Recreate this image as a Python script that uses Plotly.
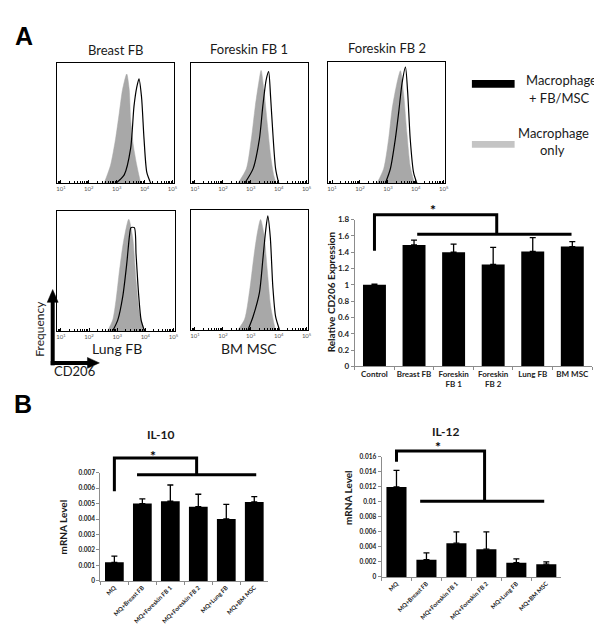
import plotly.graph_objects as go

W, H = 602, 633

# ---------------- DATA ----------------
# Flow histograms: log10(CD206 intensity) positions and relative frequency (fraction of panel height)
hist_titles = ["Breast FB", "Foreskin FB 1", "Foreskin FB 2", "Lung FB", "BM MSC"]

h1_gray_log = [2.55, 2.78, 2.96, 3.09, 3.21, 3.36, 3.45, 3.50, 3.60, 3.72, 3.86]
h1_gray_y = [0, 0.15, 0.37, 0.58, 0.78, 0.91, 0.78, 0.53, 0.31, 0.15, 0]
h1_black_log = [2.97, 3.27, 3.50, 3.62, 3.72, 3.80, 3.89, 3.98, 4.08, 4.22]
h1_black_y = [0, 0.07, 0.29, 0.64, 0.80, 0.87, 0.72, 0.37, 0.09, 0]

h2_gray_log = [2.54, 2.84, 3.02, 3.16, 3.28, 3.37, 3.47, 3.59, 3.71, 3.83, 3.91]
h2_gray_y = [0, 0.12, 0.37, 0.64, 0.83, 0.94, 0.78, 0.50, 0.23, 0.06, 0]
h2_black_log = [2.78, 3.08, 3.31, 3.43, 3.55, 3.64, 3.71, 3.79, 3.89, 4.00]
h2_black_y = [0, 0.12, 0.37, 0.64, 0.86, 0.93, 0.72, 0.42, 0.12, 0]

h3_gray_log = [2.61, 2.85, 3.03, 3.15, 3.30, 3.45, 3.56, 3.68, 3.80, 3.95]
h3_gray_y = [0, 0.12, 0.37, 0.61, 0.80, 0.93, 0.75, 0.42, 0.14, 0]
h3_black_log = [2.91, 3.09, 3.27, 3.39, 3.51, 3.63, 3.71, 3.80, 3.92, 4.04]
h3_black_y = [0, 0.12, 0.37, 0.59, 0.83, 0.96, 0.75, 0.37, 0.09, 0]

h4_gray_log = [2.66, 2.84, 2.96, 3.08, 3.23, 3.41, 3.55, 3.67, 3.79, 3.97]
h4_gray_y = [0, 0.09, 0.26, 0.50, 0.75, 0.93, 0.78, 0.42, 0.15, 0]
h4_black_log = [2.84, 3.02, 3.20, 3.34, 3.44, 3.49, 3.61, 3.67, 3.76, 3.85, 3.97]
h4_black_y = [0, 0.09, 0.29, 0.56, 0.80, 0.86, 0.86, 0.64, 0.31, 0.09, 0]

h5_gray_log = [2.54, 2.78, 2.96, 3.11, 3.23, 3.35, 3.47, 3.59, 3.71, 3.88]
h5_gray_y = [0, 0.09, 0.33, 0.61, 0.80, 0.92, 0.80, 0.50, 0.20, 0]
h5_black_log = [2.90, 3.08, 3.31, 3.43, 3.53, 3.61, 3.70, 3.79, 3.89, 4.03]
h5_black_y = [0, 0.11, 0.31, 0.58, 0.82, 0.95, 0.77, 0.36, 0.11, 0]

hist_tickvals = [1e1, 1e2, 1e3, 1e4, 1e5]
hist_ticktext = ["10<sup>1</sup>", "10<sup>2</sup>", "10<sup>3</sup>", "10<sup>4</sup>", "10<sup>5</sup>"]

# CD206 relative expression
cd_cats = ["Control", "Breast FB", "Foreskin<br>FB 1", "Foreskin<br>FB 2", "Lung FB", "BM MSC"]
cd_vals = [1.00, 1.49, 1.40, 1.25, 1.41, 1.47]
cd_err = [0.01, 0.06, 0.10, 0.21, 0.17, 0.06]
cd_ticks = [0, 0.2, 0.4, 0.6, 0.8, 1.0, 1.2, 1.4, 1.6, 1.8]
cd_ticktext = ["0", "0.2", "0.4", "0.6", "0.8", "1", "1.2", "1.4", "1.6", "1.8"]

# IL-10 / IL-12 mRNA
il_cats = ["MQ", "MQ+Breast FB", "MQ+Foreskin FB 1", "MQ+Foreskin FB 2", "MQ+Lung FB", "MQ+BM MSC"]
il10_vals = [0.0012, 0.0050, 0.00515, 0.0048, 0.0040, 0.0051]
il10_err = [0.0004, 0.0003, 0.00105, 0.0008, 0.00095, 0.00035]
il10_ticks = [0, 0.001, 0.002, 0.003, 0.004, 0.005, 0.006, 0.007]
il10_ticktext = ["0", "0.001", "0.002", "0.003", "0.004", "0.005", "0.006", "0.007"]
il12_vals = [0.0120, 0.0023, 0.0045, 0.0037, 0.0019, 0.0017]
il12_err = [0.0022, 0.0009, 0.0015, 0.0023, 0.0005, 0.0003]
il12_ticks = [0, 0.002, 0.004, 0.006, 0.008, 0.010, 0.012, 0.014, 0.016]
il12_ticktext = ["0", "0.002", "0.004", "0.006", "0.008", "0.01", "0.012", "0.014", "0.016"]

# significance brackets: (start_y, top_y, top_right_x, lower_y, lower_x0, lower_x1, star_x, star_y)
cd_sig = [1.42, 1.86, 3.09, 1.62, 1.08, 4.98, 1.48, 1.93]
il10_sig = [0.00579, 0.00795, 2.94, 0.00687, 0.81, 5.07, 1.38, 0.0081]
il12_sig = [0.01534, 0.01679, 2.94, 0.0101, 0.79, 4.93, 1.39, 0.0174]

# ---------------- LAYOUT HELPERS ----------------
def dx(a, b):
    return [a / W, b / W]

def dy(top, bottom):
    return [1 - bottom / H, 1 - top / H]

def px(x):
    return x / W

def py(y):
    return 1 - y / H

FONT = "Lato"
fig = go.Figure()

hist_boxes = [(49, 167, 51, 173), (184, 302, 51, 173), (322, 440, 50, 173),
              (49, 168, 201, 323), (184, 302, 200, 322)]
hist_data = [(h1_gray_log, h1_gray_y, h1_black_log, h1_black_y),
             (h2_gray_log, h2_gray_y, h2_black_log, h2_black_y),
             (h3_gray_log, h3_gray_y, h3_black_log, h3_black_y),
             (h4_gray_log, h4_gray_y, h4_black_log, h4_black_y),
             (h5_gray_log, h5_gray_y, h5_black_log, h5_black_y)]

layout_axes = {}
for i, ((x0, x1, y0, y1), (gl, gy, bl, by)) in enumerate(zip(hist_boxes, hist_data)):
    n = i + 1
    xa = "x" if n == 1 else f"x{n}"
    ya = "y" if n == 1 else f"y{n}"
    fig.add_trace(go.Scatter(x=[10 ** v for v in gl], y=gy, mode="lines",
                             line=dict(color="#a8a8a8", width=0.5, shape="spline", smoothing=0.7),
                             fill="tozeroy", fillcolor="#a8a8a8",
                             xaxis=xa, yaxis=ya, showlegend=False, hoverinfo="skip"))
    fig.add_trace(go.Scatter(x=[10 ** v for v in bl], y=by, mode="lines",
                             line=dict(color="black", width=1.2, shape="spline", smoothing=0.7),
                             xaxis=xa, yaxis=ya, showlegend=False, hoverinfo="skip"))
    kx = "xaxis" if n == 1 else f"xaxis{n}"
    ky = "yaxis" if n == 1 else f"yaxis{n}"
    layout_axes[kx] = dict(domain=dx(x0, x1), anchor=ya, type="log", range=[0.85, 5.05],
                           showline=True, mirror=True, linecolor="black", linewidth=1,
                           showgrid=False, zeroline=False,
                           tickvals=hist_tickvals, ticktext=hist_ticktext,
                           ticks="inside", ticklen=3, tickcolor="black",
                           minor=dict(ticks="inside", ticklen=2, tickcolor="black", dtick="D1"),
                           tickfont=dict(family=FONT, size=6, color="#555"))
    layout_axes[ky] = dict(domain=dy(y0, y1), anchor=xa, range=[0, 1],
                           showline=True, mirror=True, linecolor="black", linewidth=1,
                           showgrid=False, zeroline=False, showticklabels=False, ticks="")

err_common = dict(type="data", symmetric=False, color="black", thickness=1.3, width=3)
ann = []

def bar_panel(n, cats, vals, err, xl, xr, ytop, ybot, yext, yrange, ticks, ticktext,
              tickangle, catfont, yfont, bw, sig, nov):
    xa, ya = f"x{n}", f"y{n}"
    xo, yo = f"x{nov}", f"y{nov}"
    fig.add_trace(go.Bar(x=cats, y=vals, width=bw, marker=dict(color="black", line=dict(width=0)),
                         error_y=dict(array=err, arrayminus=[0] * len(err), **err_common),
                         xaxis=xa, yaxis=ya, showlegend=False, hoverinfo="skip"))
    s0, st, sx, sl, l0, l1, sxs, sys = sig
    fig.add_trace(go.Scatter(x=[0, 0, sx, sx], y=[s0, st, st, sl], mode="lines",
                             line=dict(color="black", width=3),
                             xaxis=xo, yaxis=yo, showlegend=False, hoverinfo="skip"))
    fig.add_trace(go.Scatter(x=[l0, l1], y=[sl, sl], mode="lines",
                             line=dict(color="black", width=3),
                             xaxis=xo, yaxis=yo, showlegend=False, hoverinfo="skip"))
    ann.append(dict(x=sxs, y=sys, xref=xo, yref=yo, text="*", showarrow=False,
                    font=dict(family=FONT, size=14, color="black", weight="bold")))
    layout_axes[f"xaxis{n}"] = dict(domain=dx(xl, xr), anchor=ya, type="category",
                                    showline=True, linecolor="#8c8c8c", linewidth=1,
                                    ticks="outside", tickson="boundaries", ticklen=3, tickcolor="#8c8c8c",
                                    tickangle=tickangle, tickfont=catfont, showgrid=False)
    layout_axes[f"yaxis{n}"] = dict(domain=dy(ytop, ybot), anchor=xa, range=yrange,
                                    tickvals=ticks, ticktext=ticktext,
                                    showline=True, linecolor="#8c8c8c", linewidth=1,
                                    ticks="outside", ticklen=3, tickcolor="#8c8c8c",
                                    tickfont=yfont, showgrid=False, zeroline=False)
    # invisible companion axes with the same scale, extended upward for brackets
    ext_top = yrange[1] * (ybot - yext) / (ybot - ytop)
    layout_axes[f"xaxis{nov}"] = dict(domain=dx(xl, xr), anchor=yo, range=[-0.5, len(cats) - 0.5],
                                      visible=False)
    layout_axes[f"yaxis{nov}"] = dict(domain=dy(yext, ybot), anchor=xo, range=[0, ext_top],
                                      visible=False)

bold8 = dict(family=FONT, size=8, color="#222", weight="bold")
bold6 = dict(family=FONT, size=6, color="#222", weight="bold")
bold65 = dict(family=FONT, size=6.5, color="#222", weight="bold")
bar_panel(6, cd_cats, cd_vals, cd_err, 349, 588, 210, 359, 185, [0, 1.8], cd_ticks, cd_ticktext, 0,
          bold8, bold8, 0.58, cd_sig, 7)
bar_panel(8, il_cats, il10_vals, il10_err, 93, 262, 467, 577, 440, [0, 0.007], il10_ticks, il10_ticktext, -45,
          bold6, bold65, 0.67, il10_sig, 9)
bar_panel(10, il_cats, il12_vals, il12_err, 376, 557, 451, 573, 428, [0, 0.016], il12_ticks, il12_ticktext, -45,
          bold6, bold65, 0.67, il12_sig, 11)

fig.update_layout(**layout_axes)

def txt(x, y, t, size, bold=False, angle=0, color="#1a1a1a", family=FONT):
    ann.append(dict(x=px(x), y=py(y), xref="paper", yref="paper", text=t, showarrow=False,
                    textangle=angle, xanchor="center", yanchor="middle",
                    font=dict(family=family, size=size, color=color, weight="bold" if bold else "normal")))

txt(16, 23, "A", 25, bold=True, color="black", family="Liberation Sans")
txt(15, 397, "B", 25, bold=True, color="black", family="Liberation Sans")
txt(108, 38, hist_titles[0], 13)
txt(243, 37, hist_titles[1], 13)
txt(382, 36, hist_titles[2], 13)
txt(110, 341, hist_titles[3], 14)
txt(243, 341, hist_titles[4], 14)
txt(32, 321, "Frequency", 12, angle=-90)
txt(67, 364, "CD206", 13)
# legend
txt(557, 68, "Macrophage", 13)
txt(555, 86, "+ FB/MSC", 13)
txt(549, 122, "Macrophage", 13)
txt(548, 139, "only", 13)
# bar titles
txt(325, 283, "Relative CD206 Expression", 10, bold=True, angle=-90)
txt(154, 428, "IL-10", 12, bold=True)
txt(440, 425, "IL-12", 12, bold=True)
txt(55, 522, "mRNA Level", 10, bold=True, angle=-90)
txt(343, 492, "mRNA Level", 10, bold=True, angle=-90)

def seg(x0, y0, x1, y1, w):
    return dict(type="line", xref="paper", yref="paper", x0=px(x0), y0=py(y0), x1=px(x1), y1=py(y1),
                line=dict(color="black", width=w))

def tri(pts):
    path = "M " + " L ".join(f"{px(a)},{py(b)}" for a, b in pts) + " Z"
    return dict(type="path", xref="paper", yref="paper", path=path, fillcolor="black",
                line=dict(color="black", width=0.5))

shapes = [
    dict(type="rect", xref="paper", yref="paper", x0=px(467), x1=px(510), y0=py(76), y1=py(68),
         fillcolor="black", line=dict(width=0)),
    dict(type="rect", xref="paper", yref="paper", x0=px(467), x1=px(510), y0=py(137), y1=py(130),
         fillcolor="#c4c4c4", line=dict(width=0)),
    # Frequency / CD206 axis arrows
    seg(45, 358, 45, 292, 4),
    tri([(45, 281), (39.5, 294), (50.5, 294)]),
    seg(43, 355.5, 81, 355.5, 4),
    tri([(92, 355.5), (80, 350), (80, 361)]),
]

fig.update_layout(width=W, height=H, margin=dict(l=0, r=0, t=0, b=0),
                  paper_bgcolor="white", plot_bgcolor="rgba(0,0,0,0)",
                  annotations=ann, shapes=shapes, showlegend=False)

fig.write_html("out.html")
